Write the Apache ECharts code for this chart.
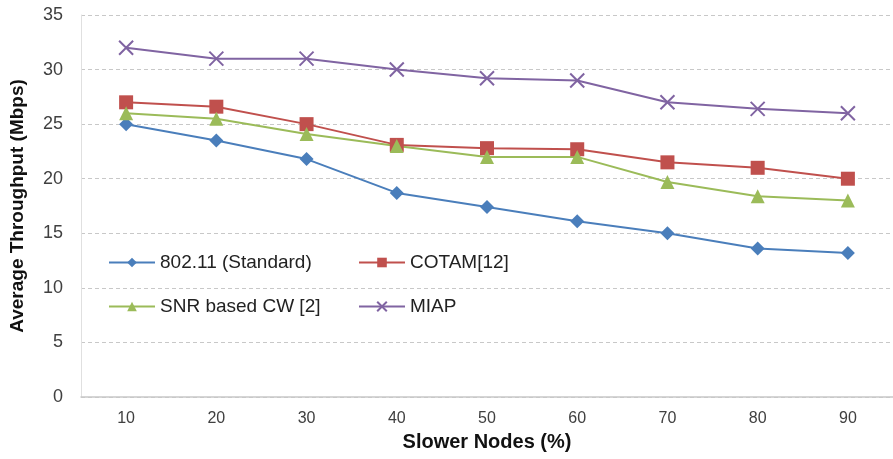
<!DOCTYPE html>
<html><head><meta charset="utf-8">
<script src="https://cdn.jsdelivr.net/npm/echarts@6/dist/echarts.min.js"></script>
<style>html,body{margin:0;padding:0;background:#fff}#c{width:893px;height:459px}</style>
</head><body><div id="c"></div>
<script>
var categories = ['10','20','30','40','50','60','70','80','90'];
var s80211 = [25.0, 23.5, 21.8, 18.7, 17.4, 16.1, 15.0, 13.6, 13.2];
var sCotam = [27.0, 26.6, 25.0, 23.1, 22.8, 22.7, 21.5, 21.0, 20.0];
var sSnr = [26.0, 25.5, 24.1, 23.0, 22.0, 22.0, 19.7, 18.4, 18.0];
var sMiap = [32.0, 31.0, 31.0, 30.0, 29.2, 29.0, 27.0, 26.4, 26.0];
var yTicks = [0, 5, 10, 15, 20, 25, 30, 35];
var names = ['802.11 (Standard)', 'COTAM[12]', 'SNR based CW [2]', 'MIAP'];

var font = 'Liberation Sans, Arial, sans-serif';
var crossPath = 'path://M0,0L10,10M10,0L0,10';
function leg(name, left, top) {
  return {data: [name], left: left, top: top, itemWidth: 46, itemHeight: 12, itemGap: 5,
    textStyle: {fontFamily: font, fontSize: 19, color: '#222'}, padding: 0};
}
var chart = echarts.init(document.getElementById('c'));
chart.setOption({
  animation: false,
  legend: [leg(names[0], 108, 253), leg(names[1], 358, 253), leg(names[2], 108, 297), leg(names[3], 358, 297)],
  grid: {left: 81, right: -2, top: 15, bottom: 62},
  xAxis: {
    type: 'category', data: categories, boundaryGap: true,
    name: 'Slower Nodes (%)', nameLocation: 'middle', nameGap: 35,
    nameTextStyle: {fontFamily: font, fontSize: 20, fontWeight: 'bold', color: '#111'},
    axisLine: {lineStyle: {color: '#c8c8c8', width: 1.5}},
    axisTick: {show: false},
    axisLabel: {fontFamily: font, fontSize: 16, color: '#404040', margin: 14}
  },
  yAxis: {
    type: 'value', min: yTicks[0], max: yTicks[yTicks.length - 1], interval: 5,
    name: 'Average Throughput (Mbps)', nameLocation: 'middle', nameGap: 54,
    nameTextStyle: {fontFamily: font, fontSize: 19, fontWeight: 'bold', color: '#111'},
    axisLine: {show: true, lineStyle: {color: '#e0e0e0'}},
    axisTick: {show: false},
    axisLabel: {fontFamily: font, fontSize: 18, color: '#404040', margin: 18},
    splitLine: {lineStyle: {type: [4, 3], color: '#c8c8c8'}}
  },
  series: [
    {name: names[0], type: 'line', data: s80211, symbol: 'diamond', symbolSize: 14,
      lineStyle: {color: '#4a7ebb', width: 2}, itemStyle: {color: '#4a7ebb'}},
    {name: names[1], type: 'line', data: sCotam, symbol: 'rect', symbolSize: 14,
      lineStyle: {color: '#c0504d', width: 2}, itemStyle: {color: '#c0504d'}},
    {name: names[2], type: 'line', data: sSnr, symbol: 'triangle', symbolSize: 14,
      lineStyle: {color: '#9bbb59', width: 2}, itemStyle: {color: '#9bbb59'}},
    {name: names[3], type: 'line', data: sMiap, symbol: crossPath, symbolSize: 14,
      lineStyle: {color: '#8064a2', width: 2},
      itemStyle: {color: '#8064a2', borderColor: '#8064a2', borderWidth: 2}}
  ]
});
</script></body></html>
